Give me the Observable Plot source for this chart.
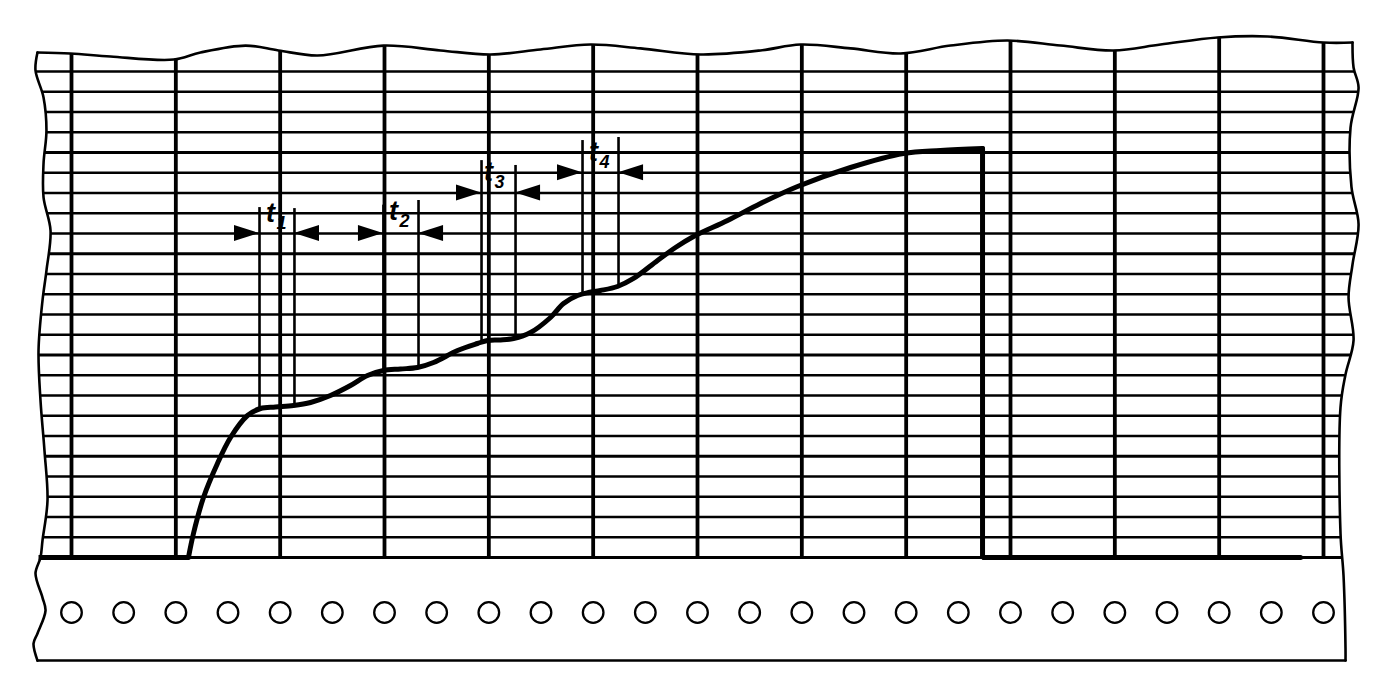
<!DOCTYPE html>
<html><head><meta charset="utf-8">
<script src="https://cdn.jsdelivr.net/npm/d3@7"></script>
<script src="https://cdn.jsdelivr.net/npm/@observablehq/plot@0.6"></script>
<style>body{margin:0;background:#fff;overflow:hidden}</style>
</head><body><div id="chart"></div>
<script>
// ---- data (x = chart divisions / time, y = chart divisions / value) ----
const gridX = [0,1,2,3,4,5,6,7,8,9,10,11,12];
const gridY = d3.range(0, 25);
const holeX = [0,0.5,1,1.5,2,2.5,3,3.5,4,4.5,5,5.5,6,6.5,7,7.5,8,8.5,9,9.5,10,10.5,11,11.5,12];
const holeY = -2.716;

const traceBaseLeft = [[-0.316,0],[1.121,0]];
const traceRise = [[1.121,0],[1.169,1.185],[1.265,2.963],[1.399,4.642],[1.524,5.926],[1.687,7.012],[1.812,7.358],[1.955,7.432],[2.128,7.506],[2.291,7.654],[2.482,8.0],[2.674,8.494],[2.837,8.988],[2.990,9.235],[3.153,9.309],[3.316,9.383],[3.470,9.630],[3.700,10.222],[3.891,10.568],[3.987,10.716],[4.112,10.741],[4.237,10.815],[4.400,11.111],[4.591,11.852],[4.716,12.543],[4.850,12.938],[4.955,13.086],[5.070,13.185],[5.233,13.383],[5.387,13.778],[5.617,14.667],[5.789,15.309],[5.962,15.852],[6.288,16.642],[6.604,17.481],[6.959,18.321],[7.467,19.259],[7.975,19.951],[8.329,20.099],[8.732,20.198]];
const traceStep = [[8.732,20.198],[8.732,0],[11.78,0]];

const markerNames = ["1","2","3","4"];
const markerLeftX = [1.802, 2.990, 3.930, 4.898];
const markerRightX = [2.137, 3.326, 4.256, 5.243];
const markerLeftBase = [7.35, 9.24, 10.65, 12.95];
const markerRightBase = [7.50, 9.38, 10.82, 13.38];
const markerLeftTop = [17.28, 17.40, 19.60, 20.59];
const markerRightTop = [17.23, 17.63, 19.36, 20.74];
const arrowY = [16.0, 16.0, 18.0, 19.0];
const labelX = [1.907, 3.086, 3.997, 5.003];
const labelY = [16.99, 17.09, 19.01, 20.0];

const topEdge = [[-0.326,24.94],[-0.010,24.89],[0.374,24.74],[0.978,24.59],[1.236,24.94],[1.668,25.28],[1.984,25.04],[2.358,24.79],[2.990,25.28],[3.537,25.04],[4.016,24.84],[4.495,25.09],[4.975,25.33],[5.454,25.14],[6.029,24.84],[6.604,25.04],[6.987,25.33],[7.467,25.14],[7.946,24.89],[8.425,25.28],[8.971,25.53],[9.479,25.28],[9.987,25.04],[10.438,25.33],[10.984,25.68],[11.464,25.73],[12.0,25.43],[12.278,25.43]];
const leftEdge = [[-0.326,24.94],[-0.345,24.05],[-0.268,22.72],[-0.240,21.09],[-0.268,19.46],[-0.268,17.78],[-0.201,16.15],[-0.240,14.17],[-0.278,12.69],[-0.316,10.22],[-0.297,7.75],[-0.259,5.28],[-0.230,2.81],[-0.278,0.84],[-0.297,0],[-0.345,-0.79],[-0.278,-1.98],[-0.249,-2.62],[-0.326,-3.75],[-0.364,-4.25],[-0.326,-5.09]];
const rightEdge = [[12.278,25.43],[12.288,24.2],[12.336,23.21],[12.259,21.23],[12.268,18.3],[12.336,16.46],[12.278,14.47],[12.240,12.84],[12.288,10.72],[12.211,9.04],[12.163,7.41],[12.163,1.2],[12.192,-0.9],[12.211,-4.49],[12.211,-5.09]];
const bottomEdge = [[-0.326,-5.09],[12.211,-5.09]];

// ---- derived tables ----
const markerLines = markerNames.flatMap((n,i) => [
  {x: markerLeftX[i], y1: markerLeftBase[i], y2: markerLeftTop[i]},
  {x: markerRightX[i], y1: markerRightBase[i], y2: markerRightTop[i]}
]);
const AL = 0.24, AH = 0.4; // arrow length / half-height (style)
const arrows = markerNames.flatMap((n,i) => [
  {id: "L"+n, x: markerLeftX[i]-AL, y1: arrowY[i]-AH, y2: arrowY[i]+AH},
  {id: "L"+n, x: markerLeftX[i], y1: arrowY[i], y2: arrowY[i]},
  {id: "R"+n, x: markerRightX[i], y1: arrowY[i], y2: arrowY[i]},
  {id: "R"+n, x: markerRightX[i]+AL, y1: arrowY[i]-AH, y2: arrowY[i]+AH}
]);
const labels = markerNames.map((n,i) => ({n, x: labelX[i], y: labelY[i]}));

const K = "#000";
const chart = Plot.plot({
  width: 1381, height: 700, margin: 0,
  x: {domain: [0, 12], range: [71, 1323], axis: null},
  y: {domain: [0, 24], range: [557, 71], axis: null},
  marks: [
    Plot.ruleX(gridX, {x: d => d, y1: 0, y2: 26, stroke: K, strokeWidth: 3.8}),
    Plot.ruleY(gridY, {y: d => d, x1: -0.6, x2: 12.6, stroke: K, strokeWidth: d => d % 5 === 0 ? 3.2 : 2.3}),
    // paper masks
    Plot.areaY(topEdge, {x: d => d[0], y1: d => d[1], y2: 30, fill: "white", curve: "catmull-rom"}),
    Plot.areaX(leftEdge, {y: d => d[1], x1: -1.5, x2: d => d[0], fill: "white", curve: "catmull-rom"}),
    Plot.areaX(rightEdge, {y: d => d[1], x1: d => d[0], x2: 14, fill: "white", curve: "catmull-rom"}),
    // paper outline
    Plot.line(topEdge, {x: d => d[0], y: d => d[1], stroke: K, strokeWidth: 2.6, curve: "catmull-rom"}),
    Plot.line(leftEdge, {x: d => d[0], y: d => d[1], stroke: K, strokeWidth: 2.6, curve: "catmull-rom"}),
    Plot.line(rightEdge, {x: d => d[0], y: d => d[1], stroke: K, strokeWidth: 2.6, curve: "catmull-rom"}),
    Plot.line(bottomEdge, {x: d => d[0], y: d => d[1], stroke: K, strokeWidth: 2.6}),
    // sprocket holes
    Plot.dot(holeX, {x: d => d, y: holeY, r: 10.3, stroke: K, strokeWidth: 2.3, fill: "white"}),
    // interval markers
    Plot.ruleX(markerLines, {x: "x", y1: "y1", y2: "y2", stroke: K, strokeWidth: 2.6}),
    Plot.areaY(arrows, {x: "x", y1: "y1", y2: "y2", z: "id", fill: K, curve: "linear"}),
    // trace
    Plot.line(traceBaseLeft, {x: d => d[0], y: d => d[1], stroke: K, strokeWidth: 5, strokeLinecap: "butt"}),
    Plot.line(traceRise, {x: d => d[0], y: d => d[1], stroke: K, strokeWidth: 5, curve: "catmull-rom"}),
    Plot.line(traceStep, {x: d => d[0], y: d => d[1], stroke: K, strokeWidth: 5, strokeLinejoin: "miter"}),
    // labels t1..t4
    Plot.text(labels, {x: "x", y: "y", text: () => "t", fill: K, fontSize: 27, fontWeight: "bold", fontStyle: "italic", fontFamily: "Liberation Sans, Arial, sans-serif"}),
    Plot.text(labels, {x: "x", y: "y", text: "n", dx: 11, dy: 10, fill: K, fontSize: 18, fontWeight: "bold", fontStyle: "italic", fontFamily: "Liberation Sans, Arial, sans-serif"})
  ]
});
document.getElementById("chart").appendChild(chart);
</script>
</body></html>
